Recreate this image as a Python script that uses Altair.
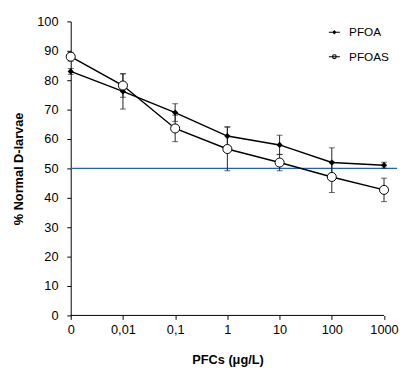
import altair as alt
import pandas as pd

x_labels = ["0", "0,01", "0,1", "1", "10", "100", "1000"]
series = ["PFOA", "PFOAS"]
pfoa = [83, 76.2, 69, 61, 58, 52, 51.1]
pfoa_err = [1, 6, 3, 3.2, 3.3, 5, 1]
pfoas = [88, 78.2, 63.6, 56.6, 52, 47.1, 42.7]
pfoas_err = [1.5, 4, 4.5, 7.4, 2.8, 5.3, 4]
threshold = 50

rows = []
for name, vals, errs in [("PFOA", pfoa, pfoa_err), ("PFOAS", pfoas, pfoas_err)]:
    for i, (v, e) in enumerate(zip(vals, errs)):
        rows.append({"idx": i, "label": x_labels[i], "series": name, "value": v,
                     "lo": v - e, "hi": v + e})
df = pd.DataFrame(rows)

FONT = "Liberation Sans"
xscale = alt.Scale(domain=[0, 6.25], nice=False, zero=False)
yscale = alt.Scale(domain=[0, 100], nice=False)

label_arr = "[" + ",".join("'%s'" % s for s in x_labels) + "]"

x_axis = alt.Axis(values=list(range(len(x_labels))), labelExpr=label_arr + "[datum.value]",
                  domain=False, grid=False, tickColor="black", tickSize=4,
                  labelFont=FONT, labelFontSize=13, labelColor="black", labelPadding=4,
                  labelOverlap=False, labelFlush=False,
                  title="PFCs (μg/L)", titleFont=FONT, titleFontSize=13, titleFontWeight="bold",
                  titleColor="black", titlePadding=18, titleX=160)
y_axis = alt.Axis(values=list(range(0, 101, 10)), grid=False, domainColor="black",
                  tickColor="black", tickSize=4, labelFont=FONT, labelFontSize=13,
                  labelColor="black", labelPadding=9, labelOverlap=False, labelFlush=False,
                  title="% Normal D-larvae", titleFont=FONT, titleFontSize=13,
                  titleFontWeight="bold", titleColor="black", titlePadding=11)


def X(field):
    return alt.X(field, scale=xscale, axis=x_axis)


def Y(field):
    return alt.Y(field, scale=yscale, axis=y_axis)


base = alt.Chart(df)

axis_df = pd.DataFrame({"x0": [0], "x1": [len(x_labels) - 1], "y": [0]})
axis_line = alt.Chart(axis_df).mark_rule(color="black", strokeWidth=1).encode(
    x=X("x0:Q"), x2="x1:Q", y=Y("y:Q"))

th_df = pd.DataFrame({"x0": [0], "x1": [6.25], "y": [threshold]})
th_line = alt.Chart(th_df).mark_rule(color="#1f5fd6", strokeWidth=1.2).encode(
    x=X("x0:Q"), x2="x1:Q", y=Y("y:Q"))

err = base.mark_rule(color="#222", strokeWidth=1).encode(
    x=X("idx:Q"), y=Y("lo:Q"), y2="hi:Q")
cap_lo = base.mark_tick(color="#222", orient="horizontal", size=6, thickness=1).encode(
    x=X("idx:Q"), y=Y("lo:Q"))
cap_hi = base.mark_tick(color="#222", orient="horizontal", size=6, thickness=1).encode(
    x=X("idx:Q"), y=Y("hi:Q"))

line = base.mark_line(color="black", strokeWidth=1.5).encode(
    x=X("idx:Q"), y=Y("value:Q"), detail="series:N")

pts_a = base.transform_filter("datum.series == 'PFOA'").mark_point(
    shape="diamond", filled=True, color="black", size=40, opacity=1).encode(
    x=X("idx:Q"), y=Y("value:Q"))
pts_b = base.transform_filter("datum.series == 'PFOAS'").mark_point(
    shape="circle", filled=False, stroke="black", fill="white", fillOpacity=1,
    strokeWidth=1, size=85, opacity=1).encode(
    x=X("idx:Q"), y=Y("value:Q"))

path_a = "M-1.6,0H1.6M0,-0.42L0.42,0L0,0.42L-0.42,0Z"
path_b = "M-1.6,0H-0.55M0.55,0H1.6M0.55,0A0.55,0.55,0,1,1,-0.55,0A0.55,0.55,0,1,1,0.55,0ZM-0.55,0H0.55"

leg = alt.Legend(title=None, orient="none", legendX=263, legendY=5,
                 labelFont=FONT, labelFontSize=12, labelColor="black",
                 labelOffset=9, rowPadding=13, symbolSize=49,
                 symbolStrokeColor="black", symbolStrokeWidth=1.1, symbolOpacity=1)

legend_layer = base.transform_filter("false").mark_point(
    size=49, strokeWidth=1.1, opacity=1, filled=True, fillOpacity=1).encode(
    x=X("idx:Q"), y=Y("value:Q"),
    shape=alt.Shape("series:N", scale=alt.Scale(domain=series, range=[path_a, path_b]),
                    legend=leg),
    fill=alt.Fill("series:N", scale=alt.Scale(domain=series, range=["black", "white"]),
                  legend=leg),
    stroke=alt.Stroke("series:N", scale=alt.Scale(domain=series, range=["black", "black"]),
                      legend=leg))

chart = alt.layer(axis_line, th_line, err, cap_lo, cap_hi, line, pts_a, pts_b, legend_layer).properties(
    width=333, height=300,
    padding={"left": 64, "top": 10, "right": 4, "bottom": 53},
    autosize=alt.AutoSizeParams(type="none"),
    background="white",
).configure_view(stroke=None)

chart.save("out.html", embed_options={"renderer": "svg", "actions": False})
